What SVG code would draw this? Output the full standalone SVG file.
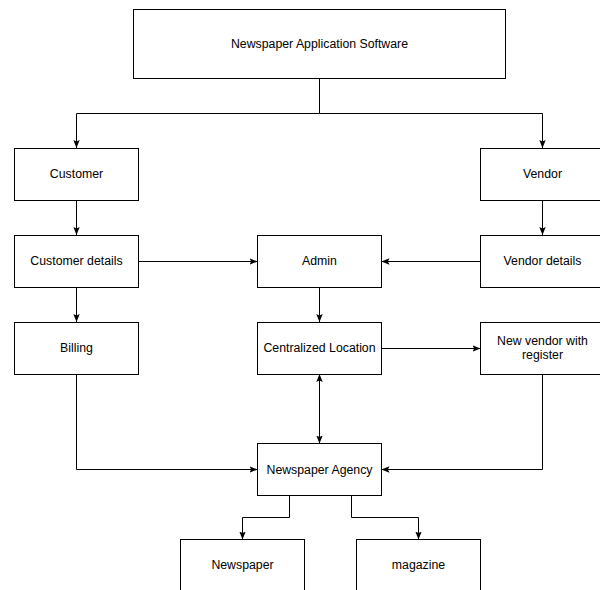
<svg xmlns="http://www.w3.org/2000/svg" width="600" height="590" viewBox="0 0 600 590">
<defs>
<marker id="ah" viewBox="0 0 8 8" refX="8" refY="4" markerWidth="8" markerHeight="8" markerUnits="userSpaceOnUse" orient="auto-start-reverse">
<path d="M0,0.8 L8,4 L0,7.2 L1.6,4 Z" fill="#000"/>
</marker>
<style>
.box{fill:#fff;stroke:#000;stroke-width:1}
.lbl{font-family:"Liberation Sans",Arial,sans-serif;font-size:12.3px;fill:#000;text-anchor:middle;dominant-baseline:central}
.c{fill:none;stroke:#000;stroke-width:1}
</style>
</defs>
<rect width="600" height="590" fill="#fff"/>
<g id="connectors">
<polyline class="c" points="319.5,79 319.5,113.5 76.5,113.5 76.5,148" marker-end="url(#ah)"/>
<polyline class="c" points="319.5,113.5 542.5,113.5 542.5,148" marker-end="url(#ah)"/>
<line class="c" x1="76.5" y1="200" x2="76.5" y2="235" marker-end="url(#ah)"/>
<line class="c" x1="542.5" y1="200" x2="542.5" y2="235" marker-end="url(#ah)"/>
<line class="c" x1="138.5" y1="261.5" x2="257.5" y2="261.5" marker-end="url(#ah)"/>
<line class="c" x1="480.5" y1="261.5" x2="381.5" y2="261.5" marker-end="url(#ah)"/>
<line class="c" x1="76.5" y1="287" x2="76.5" y2="322" marker-end="url(#ah)"/>
<line class="c" x1="319.5" y1="287" x2="319.5" y2="322" marker-end="url(#ah)"/>
<line class="c" x1="381.5" y1="348.5" x2="480.5" y2="348.5" marker-end="url(#ah)"/>
<line class="c" x1="319.5" y1="374" x2="319.5" y2="443.5" marker-start="url(#ah)" marker-end="url(#ah)"/>
<polyline class="c" points="76.5,374 76.5,469.5 257.5,469.5" marker-end="url(#ah)"/>
<polyline class="c" points="542.5,374 542.5,469.5 381.5,469.5" marker-end="url(#ah)"/>
<polyline class="c" points="289.5,496 289.5,517.5 242.5,517.5 242.5,539.5" marker-end="url(#ah)"/>
<polyline class="c" points="351.5,496 351.5,517.5 418.5,517.5 418.5,539.5" marker-end="url(#ah)"/>
</g>
<g id="n-app"><rect class="box" x="133.5" y="9.5" width="372" height="69"/><text class="lbl" x="319.5" y="44">Newspaper Application Software</text></g>
<g id="n-customer"><rect class="box" x="14.5" y="148.5" width="124" height="52"/><text class="lbl" x="76.5" y="174">Customer</text></g>
<g id="n-vendor"><rect class="box" x="480.5" y="148.5" width="124" height="52"/><text class="lbl" x="542.5" y="174">Vendor</text></g>
<g id="n-customer-details"><rect class="box" x="14.5" y="235.5" width="124" height="52"/><text class="lbl" x="76.5" y="261">Customer details</text></g>
<g id="n-admin"><rect class="box" x="257.5" y="235.5" width="124" height="52"/><text class="lbl" x="319.5" y="261">Admin</text></g>
<g id="n-vendor-details"><rect class="box" x="480.5" y="235.5" width="124" height="52"/><text class="lbl" x="542.5" y="261">Vendor details</text></g>
<g id="n-billing"><rect class="box" x="14.5" y="322.5" width="124" height="52"/><text class="lbl" x="76.5" y="348">Billing</text></g>
<g id="n-central"><rect class="box" x="257.5" y="322.5" width="124" height="52"/><text class="lbl" x="319.5" y="348">Centralized Location</text></g>
<g id="n-new-vendor"><rect class="box" x="480.5" y="322.5" width="124" height="52"/><text class="lbl" x="542.5" y="341.3">New vendor with</text><text class="lbl" x="542.5" y="354.7">register</text></g>
<g id="n-agency"><rect class="box" x="257.5" y="443.5" width="124" height="52"/><text class="lbl" x="319.5" y="469.5">Newspaper Agency</text></g>
<g id="n-newspaper"><rect class="box" x="180.5" y="539.5" width="124" height="60"/><text class="lbl" x="242.5" y="565">Newspaper</text></g>
<g id="n-magazine"><rect class="box" x="356.5" y="539.5" width="124" height="60"/><text class="lbl" x="418.5" y="565">magazine</text></g>
</svg>
